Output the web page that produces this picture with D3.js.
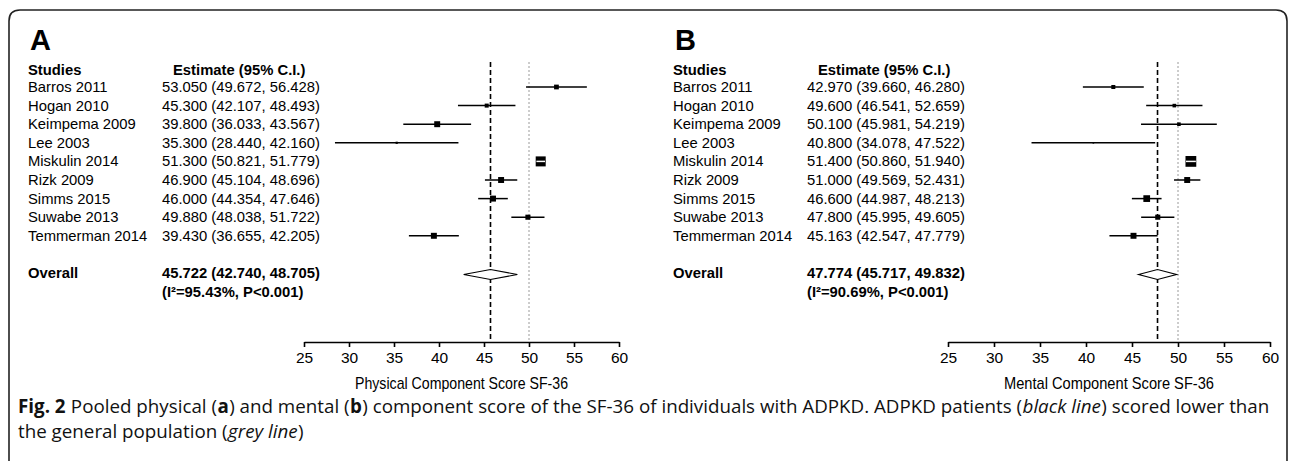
<!DOCTYPE html>
<html>
<head>
<meta charset="utf-8">
<script src="https://cdn.jsdelivr.net/npm/d3@7"></script>
<style>
  html, body { margin: 0; padding: 0; background: #fff; }
  svg { display: block; }
</style>
</head>
<body>
<svg id="chart" width="1290" height="461"></svg>
<script>
// ---------------- DATA ----------------
const studies = ["Barros 2011", "Hogan 2010", "Keimpema 2009", "Lee 2003", "Miskulin 2014",
                 "Rizk 2009", "Simms 2015", "Suwabe 2013", "Temmerman 2014"];

// Panel A: Physical Component Score
const estA  = [53.050, 45.300, 39.800, 35.300, 51.300, 46.900, 46.000, 49.880, 39.430];
const lowA  = [49.672, 42.107, 36.033, 28.440, 50.821, 45.104, 44.354, 48.038, 36.655];
const highA = [56.428, 48.493, 43.567, 42.160, 51.779, 48.696, 47.646, 51.722, 42.205];
const weightA = [7, 5, 11, 1.5, 31, 11, 11, 8, 11];
const overallA = [45.722, 42.740, 48.705];
const hetA = "(I\u00B2=95.43%, P<0.001)";

// Panel B: Mental Component Score
const estB  = [42.970, 49.600, 50.100, 40.800, 51.400, 51.000, 46.600, 47.800, 45.163];
const lowB  = [39.660, 46.541, 45.981, 34.078, 50.860, 49.569, 44.987, 45.995, 42.547];
const highB = [46.280, 52.659, 54.219, 47.522, 51.940, 52.431, 48.213, 49.605, 47.779];
const weightB = [5, 4, 4, 0.8, 36, 11, 14, 8, 11];
const overallB = [47.774, 45.717, 49.832];
const hetB = "(I\u00B2=90.69%, P<0.001)";

const tickValues = [25, 30, 35, 40, 45, 50, 55, 60];
const refValue = 50; // general population (grey line)
const axisTitles = ["Physical Component Score SF-36", "Mental Component Score SF-36"];
const panelLabels = ["A", "B"];

// ---------------- DRAW ----------------
const svg = d3.select("#chart");
const fmt = d3.format(".3f");
const FONT = "'Liberation Sans', Arial, sans-serif";

svg.append("path")
  .attr("d", "M9,461 L9,21 Q9,10 20,10 L1276,10 Q1287,10 1287,21 L1287,461")
  .attr("fill", "none").attr("stroke", "#222").attr("stroke-width", 1.6);

const rowY = d3.scaleLinear().domain([0, 1]).range([87, 105.6]);
const boxSide = d3.scaleSqrt().domain([0, 31]).range([0, 10]);

function panel(opts) {
  const g = svg.append("g");
  const tx = opts.textX;
  const x = d3.scaleLinear().domain([25, 60]).range(opts.range);
  const FS = 14.8;

  g.append("text").attr("x", tx + 2).attr("y", 50)
    .attr("font-family", FONT).attr("font-weight", "bold").attr("font-size", 29)
    .text(opts.label);

  g.append("text").attr("x", tx).attr("y", 75)
    .attr("font-family", FONT).attr("font-weight", "bold").attr("font-size", FS)
    .text("Studies");
  g.append("text").attr("x", tx + 145).attr("y", 75)
    .attr("font-family", FONT).attr("font-weight", "bold").attr("font-size", FS)
    .text("Estimate (95% C.I.)");

  studies.forEach((s, i) => {
    const y = rowY(i);
    g.append("text").attr("x", tx).attr("y", y + 5)
      .attr("font-family", FONT).attr("font-size", FS).text(s);
    g.append("text").attr("x", tx + 134).attr("y", y + 5)
      .attr("font-family", FONT).attr("font-size", FS)
      .text(`${fmt(opts.est[i])} (${fmt(opts.low[i])}, ${fmt(opts.high[i])})`);
  });

  const yOver = rowY(10);
  g.append("text").attr("x", tx).attr("y", yOver + 5)
    .attr("font-family", FONT).attr("font-weight", "bold").attr("font-size", FS)
    .text("Overall");
  g.append("text").attr("x", tx + 134).attr("y", yOver + 5)
    .attr("font-family", FONT).attr("font-weight", "bold").attr("font-size", FS)
    .text(`${fmt(opts.overall[0])} (${fmt(opts.overall[1])}, ${fmt(opts.overall[2])})`);
  g.append("text").attr("x", tx + 134).attr("y", rowY(11) + 5)
    .attr("font-family", FONT).attr("font-weight", "bold").attr("font-size", FS)
    .text(opts.het);

  const axisY = 342;

  g.append("line")
    .attr("x1", x(refValue)).attr("x2", x(refValue)).attr("y1", 62).attr("y2", axisY)
    .attr("stroke", "#9a9a9a").attr("stroke-width", 1).attr("stroke-dasharray", "2,2");
  g.append("line")
    .attr("x1", x(opts.overall[0])).attr("x2", x(opts.overall[0])).attr("y1", 62).attr("y2", axisY)
    .attr("stroke", "#000").attr("stroke-width", 1.6).attr("stroke-dasharray", "5,3");

  studies.forEach((s, i) => {
    const y = rowY(i);
    const side = Math.max(1.5, boxSide(opts.weight[i]));
    const x1 = x(opts.low[i]), x2 = x(opts.high[i]), xc = x(opts.est[i]);
    g.append("line").attr("x1", x1).attr("x2", x2).attr("y1", y).attr("y2", y)
      .attr("stroke", "#000").attr("stroke-width", 1.5);
    g.append("rect").attr("x", xc - side / 2).attr("y", y - side / 2)
      .attr("width", side).attr("height", side).attr("fill", "#000");
    if (x1 > xc - side / 2 && x2 < xc + side / 2) {
      g.append("line").attr("x1", x1).attr("x2", x2).attr("y1", y).attr("y2", y)
        .attr("stroke", "#fff").attr("stroke-width", 1.5);
    }
  });

  const [m, lo, hi] = opts.overall;
  g.append("path")
    .attr("d", `M${x(lo)},${yOver + 1.5} L${x(m)},${yOver - 3.5} L${x(hi)},${yOver + 1.5} L${x(m)},${yOver + 6.5} Z`)
    .attr("fill", "#fff").attr("stroke", "#000").attr("stroke-width", 1.2);

  const ax = g.append("g").attr("transform", `translate(0,${axisY})`)
    .call(d3.axisBottom(x).tickValues(tickValues).tickSize(5).tickSizeOuter(0).tickPadding(5));
  ax.select(".domain").attr("stroke", "#000").attr("stroke-width", 1.6);
  ax.selectAll(".tick line").attr("stroke", "#000").attr("stroke-width", 1.6);
  ax.selectAll(".tick text").attr("font-family", FONT).attr("font-size", 15.5).attr("fill", "#000");

  g.append("text").attr("x", (opts.range[0] + opts.range[1]) / 2).attr("y", 389)
    .attr("text-anchor", "middle").attr("font-family", FONT).attr("font-size", 17)
    .attr("textLength", opts.titleLen).attr("lengthAdjust", "spacingAndGlyphs")
    .text(opts.title);
}

panel({ label: panelLabels[0], textX: 28, range: [304, 619], est: estA, low: lowA, high: highA,
        weight: weightA, overall: overallA, het: hetA, title: axisTitles[0], titleLen: 213 });
panel({ label: panelLabels[1], textX: 673, range: [948, 1270], est: estB, low: lowB, high: highB,
        weight: weightB, overall: overallB, het: hetB, title: axisTitles[1], titleLen: 210 });

// caption
const CAP = "'Open Sans', 'Noto Sans', sans-serif";
const capLine1 = [["Fig. 2", "bold", "normal", 0], ["Pooled physical (", "normal", "normal", 1], ["a", "bold", "normal", 0],
 [") and mental (", "normal", "normal", 0], ["b", "bold", "normal", 0],
 [") component score of the SF-36 of individuals with ADPKD. ADPKD patients (", "normal", "normal", 0],
 ["black line", "normal", "italic", 0], [") scored lower than", "normal", "normal", 0]];
const capLine2 = [["the general population (", "normal", "normal", 0], ["grey line", "normal", "italic", 0], [")", "normal", "normal", 0]];
const capG = svg.append("g");

function layoutLine(parts, y, size) {
  let cx = 18;
  const nodes = [];
  const spaceW = size * 0.26;
  parts.forEach(([t, w, st, gap]) => {
    cx += gap ? spaceW : 0;
    const n = capG.append("text").attr("x", cx).attr("y", y)
      .attr("font-family", CAP).attr("font-size", size).attr("font-weight", w)
      .attr("font-style", st).attr("fill", "#111").text(t);
    cx += n.node().getComputedTextLength() + 0.4;
    nodes.push(n);
  });
  return { width: cx - 18, nodes };
}
function drawCaption() {
  capG.selectAll("*").remove();
  const probe = layoutLine(capLine1, 413, 15);
  const capSize = 15 * 1253 / probe.width;
  capG.selectAll("*").remove();
  layoutLine(capLine1, 413, capSize);
  layoutLine(capLine2, 437.5, capSize);
}
drawCaption();
if (document.fonts) {
  document.fonts.load("15px 'Open Sans'").then(drawCaption);
  document.fonts.load("bold 15px 'Open Sans'").then(drawCaption);
  document.fonts.load("italic 15px 'Open Sans'").then(drawCaption);
  document.fonts.ready.then(drawCaption);
}
</script>
</body>
</html>
